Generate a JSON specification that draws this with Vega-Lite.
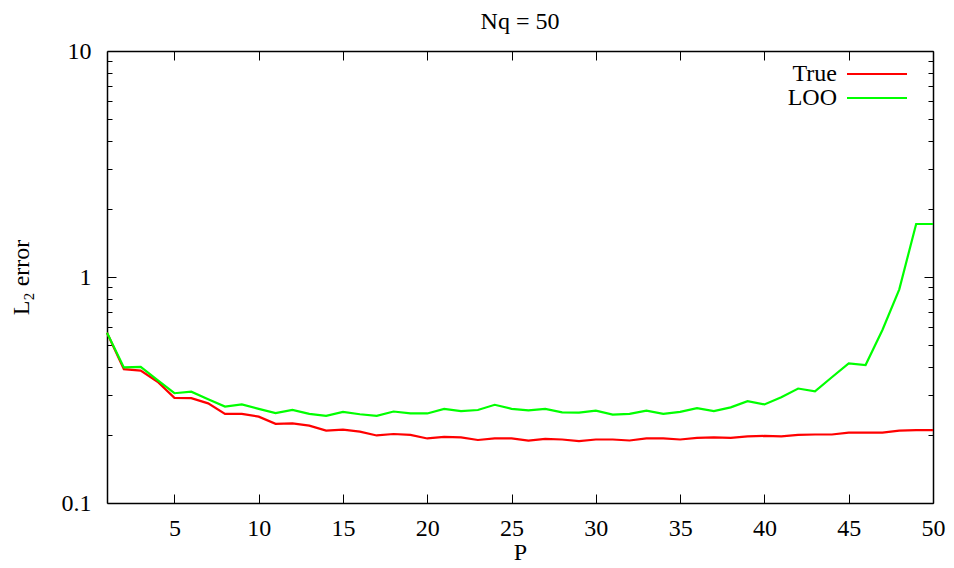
{
  "$schema": "https://vega.github.io/schema/vega-lite/v6.json",
  "width": 826,
  "height": 452,
  "autosize": {"type": "none"},
  "padding": {"left": 107, "top": 51, "right": 21, "bottom": 65},
  "background": "white",
  "title": {"text": "Nq = 50", "font": "Liberation Serif", "fontSize": 24, "fontWeight": "normal", "color": "black", "offset": 5, "anchor": "middle", "frame": "group"},
  "config": {
    "view": {"stroke": null},
    "title": {"font": "Liberation Serif", "fontSize": 24, "fontWeight": "normal", "color": "black"},
    "axis": {
      "labelFont": "Liberation Serif", "titleFont": "Liberation Serif",
      "labelFontSize": 24, "titleFontSize": 24, "titleFontWeight": "normal",
      "labelColor": "black", "titleColor": "black",
      "domainColor": "black", "domainWidth": 1.5, "tickColor": "black", "tickWidth": 1,
      "grid": false
    },
    "legend": {"labelFont": "Liberation Serif", "labelFontSize": 24, "labelColor": "black"}
  },
  "data": {"values": [
    {"P":1,"series":"True","value":0.567},{"P":2,"series":"True","value":0.391},{"P":3,"series":"True","value":0.385},{"P":4,"series":"True","value":0.344},{"P":5,"series":"True","value":0.292},
    {"P":6,"series":"True","value":0.291},{"P":7,"series":"True","value":0.276},{"P":8,"series":"True","value":0.248},{"P":9,"series":"True","value":0.248},{"P":10,"series":"True","value":0.241},
    {"P":11,"series":"True","value":0.224},{"P":12,"series":"True","value":0.225},{"P":13,"series":"True","value":0.220},{"P":14,"series":"True","value":0.209},{"P":15,"series":"True","value":0.211},
    {"P":16,"series":"True","value":0.207},{"P":17,"series":"True","value":0.199},{"P":18,"series":"True","value":0.202},{"P":19,"series":"True","value":0.200},{"P":20,"series":"True","value":0.193},
    {"P":21,"series":"True","value":0.196},{"P":22,"series":"True","value":0.195},{"P":23,"series":"True","value":0.190},{"P":24,"series":"True","value":0.193},{"P":25,"series":"True","value":0.193},
    {"P":26,"series":"True","value":0.189},{"P":27,"series":"True","value":0.192},{"P":28,"series":"True","value":0.191},{"P":29,"series":"True","value":0.188},{"P":30,"series":"True","value":0.191},
    {"P":31,"series":"True","value":0.191},{"P":32,"series":"True","value":0.189},{"P":33,"series":"True","value":0.193},{"P":34,"series":"True","value":0.193},{"P":35,"series":"True","value":0.191},
    {"P":36,"series":"True","value":0.194},{"P":37,"series":"True","value":0.195},{"P":38,"series":"True","value":0.194},{"P":39,"series":"True","value":0.197},{"P":40,"series":"True","value":0.198},
    {"P":41,"series":"True","value":0.197},{"P":42,"series":"True","value":0.200},{"P":43,"series":"True","value":0.201},{"P":44,"series":"True","value":0.201},{"P":45,"series":"True","value":0.205},
    {"P":46,"series":"True","value":0.205},{"P":47,"series":"True","value":0.205},{"P":48,"series":"True","value":0.209},{"P":49,"series":"True","value":0.210},{"P":50,"series":"True","value":0.210},
    {"P":1,"series":"LOO","value":0.567},{"P":2,"series":"LOO","value":0.398},{"P":3,"series":"LOO","value":0.400},{"P":4,"series":"LOO","value":0.350},{"P":5,"series":"LOO","value":0.306},
    {"P":6,"series":"LOO","value":0.311},{"P":7,"series":"LOO","value":0.288},{"P":8,"series":"LOO","value":0.267},{"P":9,"series":"LOO","value":0.273},{"P":10,"series":"LOO","value":0.261},
    {"P":11,"series":"LOO","value":0.250},{"P":12,"series":"LOO","value":0.258},{"P":13,"series":"LOO","value":0.248},{"P":14,"series":"LOO","value":0.243},{"P":15,"series":"LOO","value":0.253},
    {"P":16,"series":"LOO","value":0.247},{"P":17,"series":"LOO","value":0.243},{"P":18,"series":"LOO","value":0.254},{"P":19,"series":"LOO","value":0.249},{"P":20,"series":"LOO","value":0.249},
    {"P":21,"series":"LOO","value":0.261},{"P":22,"series":"LOO","value":0.255},{"P":23,"series":"LOO","value":0.258},{"P":24,"series":"LOO","value":0.272},{"P":25,"series":"LOO","value":0.261},
    {"P":26,"series":"LOO","value":0.257},{"P":27,"series":"LOO","value":0.261},{"P":28,"series":"LOO","value":0.252},{"P":29,"series":"LOO","value":0.251},{"P":30,"series":"LOO","value":0.256},
    {"P":31,"series":"LOO","value":0.246},{"P":32,"series":"LOO","value":0.248},{"P":33,"series":"LOO","value":0.256},{"P":34,"series":"LOO","value":0.248},{"P":35,"series":"LOO","value":0.253},
    {"P":36,"series":"LOO","value":0.263},{"P":37,"series":"LOO","value":0.255},{"P":38,"series":"LOO","value":0.265},{"P":39,"series":"LOO","value":0.282},{"P":40,"series":"LOO","value":0.273},
    {"P":41,"series":"LOO","value":0.294},{"P":42,"series":"LOO","value":0.321},{"P":43,"series":"LOO","value":0.312},{"P":44,"series":"LOO","value":0.360},{"P":45,"series":"LOO","value":0.415},
    {"P":46,"series":"LOO","value":0.408},{"P":47,"series":"LOO","value":0.583},{"P":48,"series":"LOO","value":0.882},{"P":49,"series":"LOO","value":1.716},{"P":50,"series":"LOO","value":1.716}
  ]},
  "layer": [
    {
      "mark": {"type": "line", "strokeWidth": 2.2},
      "encoding": {
        "x": {"field": "P", "type": "quantitative", "scale": {"domain": [1, 50], "nice": false, "zero": false},
              "axis": {"orient": "bottom", "values": [5,10,15,20,25,30,35,40,45,50], "tickSize": -9, "labelPadding": 22, "labelFlush": false, "labelFont": "Liberation Serif", "title": "P", "titlePadding": 0}},
        "y": {"field": "value", "type": "quantitative", "scale": {"type": "log", "domain": [0.1, 10], "nice": false},
              "axis": {"orient": "left", "values": [0.1, 1, 10], "format": "~g", "tickSize": -9, "labelPadding": 25, "labelFont": "Liberation Serif", "title": "L₂ error", "titlePadding": 28}},
        "color": {"field": "series", "type": "nominal", "sort": ["True", "LOO"],
                  "scale": {"domain": ["True", "LOO"], "range": ["#ff0000", "#00ff00"]},
                  "legend": {"orient": "none", "legendX": 758, "legendY": 11, "title": null, "symbolType": "M-3,0H3", "symbolSize": 400, "symbolStrokeWidth": 2.2,
                             "labelFont": "Liberation Serif", "labelFontSize": 24, "labelColor": "black", "labelAlign": "right", "labelOffset": -52, "rowPadding": 0, "padding": 0}}
      }
    },
    {
      "mark": {"type": "line", "opacity": 0},
      "encoding": {
        "x": {"field": "P", "type": "quantitative", "axis": {"orient": "top", "values": [5,10,15,20,25,30,35,40,45,50], "tickSize": -9, "labels": false, "title": null}},
        "y": {"field": "value", "type": "quantitative", "axis": {"orient": "right", "values": [0.1, 1, 10], "tickSize": -9, "labels": false, "title": null}},
        "detail": {"field": "series"}
      }
    },
    {
      "mark": {"type": "line", "opacity": 0},
      "encoding": {
        "x": {"field": "P", "type": "quantitative", "axis": null},
        "y": {"field": "value", "type": "quantitative", "axis": {"orient": "left", "values": [0.2,0.3,0.4,0.5,0.6,0.7,0.8,0.9,2,3,4,5,6,7,8,9], "tickSize": -5, "labels": false, "domain": false, "title": null}},
        "detail": {"field": "series"}
      }
    },
    {
      "mark": {"type": "line", "opacity": 0},
      "encoding": {
        "x": {"field": "P", "type": "quantitative", "axis": null},
        "y": {"field": "value", "type": "quantitative", "axis": {"orient": "right", "values": [0.2,0.3,0.4,0.5,0.6,0.7,0.8,0.9,2,3,4,5,6,7,8,9], "tickSize": -5, "labels": false, "domain": false, "title": null}},
        "detail": {"field": "series"}
      }
    }
  ],
  "resolve": {"axis": {"x": "independent", "y": "independent"}}
}
